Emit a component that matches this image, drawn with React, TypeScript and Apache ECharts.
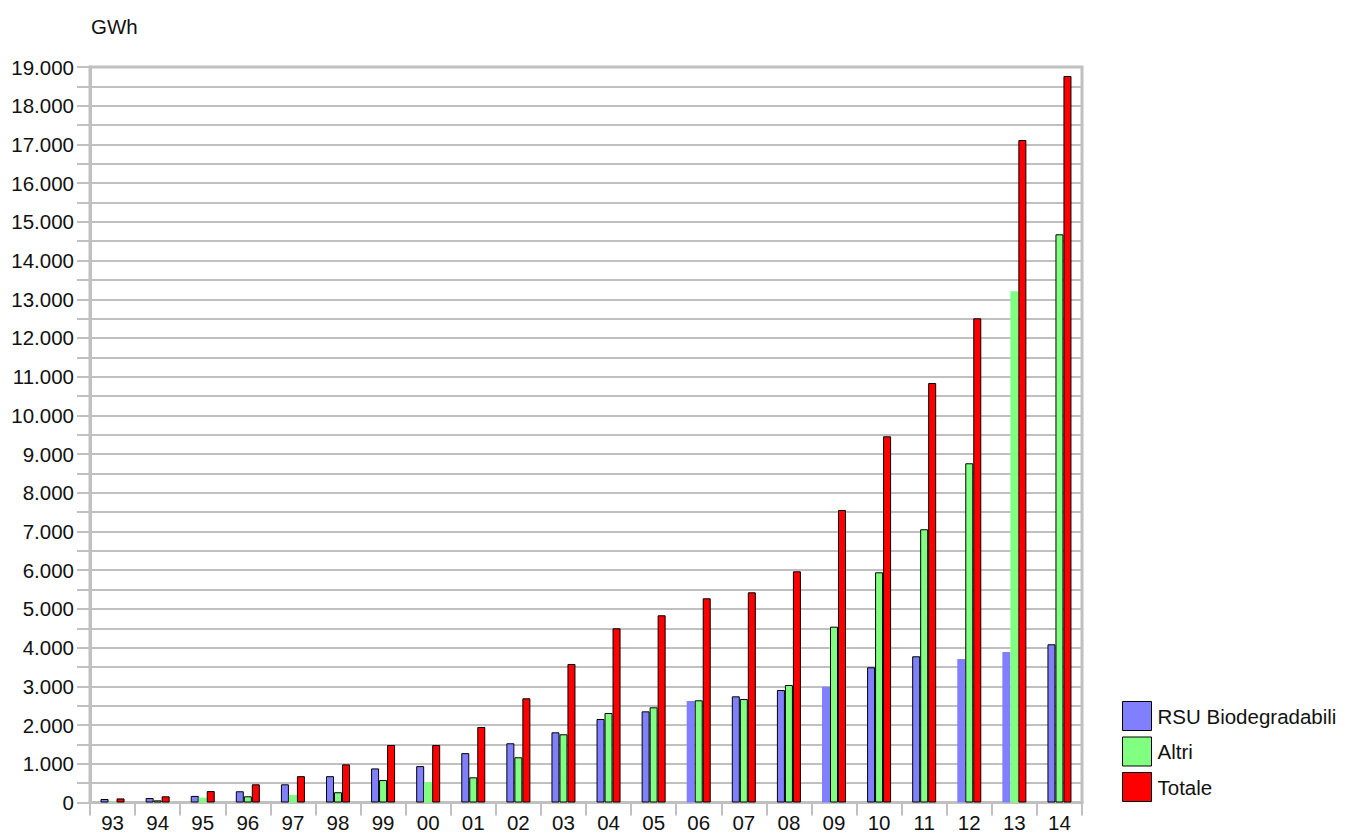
import React, { useEffect, useRef } from "react";
import * as echarts from "echarts";

const years = ["93","94","95","96","97","98","99","00","01","02","03","04","05","06","07","08","09","10","11","12","13","14"];
const rsu = [90,115,170,290,470,680,880,940,1275,1530,1813,2157,2355,2622,2743,2906,2992,3493,3777,3707,3888,4087];
const altri = [15,55,125,160,195,265,580,530,650,1168,1762,2312,2459,2640,2674,3035,4542,5947,7058,8763,13206,14678];
const totale = [105,160,295,470,680,985,1485,1485,1950,2692,3578,4500,4836,5275,5430,5972,7556,9460,10837,12508,17114,18768];
const seriesNames = ["RSU Biodegradabili", "Altri", "Totale"];
const yTickStep = 500;
const yMax = 19000;

// years whose bars are drawn without an outline in the original
const rsuNoOutline = ["06", "09", "12", "13"];
const altriNoOutline = ["93", "95", "97", "00", "13"];

const fmt = (v: number) => {
  if (v === 0) return "0";
  const s = String(v);
  return s.replace(/\B(?=(\d{3})+(?!\d))/g, ".");
};

export default function App() {
  const ref = useRef<HTMLDivElement>(null);
  useEffect(() => {
    if (!ref.current) return;
    const chart = echarts.init(ref.current, undefined, { renderer: "svg" });
    const font = "'Liberation Sans', Arial, sans-serif";
    const fs = 20.5;
    const mk = (vals: number[], noOutline: string[]) =>
      vals.map((v, i) => ({
        value: v,
        itemStyle: noOutline.includes(years[i]) ? { borderWidth: 0 } : undefined,
      }));
    chart.setOption({
      animation: false,
      backgroundColor: "#fff",
      textStyle: { fontFamily: font },
      title: {
        text: "GWh",
        left: 91,
        top: 16,
        padding: 0,
        textStyle: { fontSize: fs, fontWeight: "normal", color: "#111", fontFamily: font },
      },
      legend: {
        orient: "vertical",
        left: 1122,
        top: 701,
        padding: 0,
        itemWidth: 29,
        itemHeight: 29,
        itemGap: 5.5,
        icon: "rect",
        data: seriesNames,
        textStyle: { fontSize: fs, color: "#111", fontFamily: font, padding: [0, 0, 0, 1] },
        itemStyle: { borderColor: "#000", borderWidth: 1 },
      },
      grid: {
        left: 90,
        right: 265,
        top: 67,
        bottom: 37.5,
        show: true,
        borderColor: "#c0c0c0",
        borderWidth: 3,
      },
      xAxis: {
        type: "category",
        data: years,
        boundaryGap: true,
        axisLine: { lineStyle: { color: "#c0c0c0", width: 3 } },
        axisTick: { show: true, length: 13, lineStyle: { color: "#c0c0c0", width: 2 } },
        axisLabel: { fontSize: fs, color: "#111", margin: 9, fontFamily: font },
        splitLine: { show: false },
      },
      yAxis: {
        type: "value",
        min: 0,
        max: yMax,
        interval: yTickStep,
        axisLine: { show: true, lineStyle: { color: "#c0c0c0", width: 3 } },
        axisTick: { show: true, length: 13, lineStyle: { color: "#c0c0c0", width: 2 } },
        axisLabel: {
          fontSize: fs,
          color: "#111",
          margin: 16,
          fontFamily: font,
          formatter: (v: number) => (v % 1000 === 0 ? fmt(v) : ""),
        },
        splitLine: { show: true, lineStyle: { color: "#c0c0c0", width: 2 } },
      },
      series: [
        {
          name: seriesNames[0],
          type: "bar",
          data: mk(rsu, rsuNoOutline),
          barWidth: 8,
          barGap: "0%",
          itemStyle: { color: "#8080ff", borderColor: "#000", borderWidth: 1 },
        },
        {
          name: seriesNames[1],
          type: "bar",
          data: mk(altri, altriNoOutline),
          barWidth: 8,
          barGap: "0%",
          itemStyle: { color: "#80ff80", borderColor: "#000", borderWidth: 1 },
        },
        {
          name: seriesNames[2],
          type: "bar",
          data: totale,
          barWidth: 8,
          barGap: "0%",
          itemStyle: { color: "#ff0000", borderColor: "#000", borderWidth: 1 },
        },
      ],
    });
    return () => chart.dispose();
  }, []);
  return (
    <div
      ref={ref}
      style={{ position: "fixed", left: 0, top: 0, width: 1347, height: 840, background: "#fff" }}
    />
  );
}
